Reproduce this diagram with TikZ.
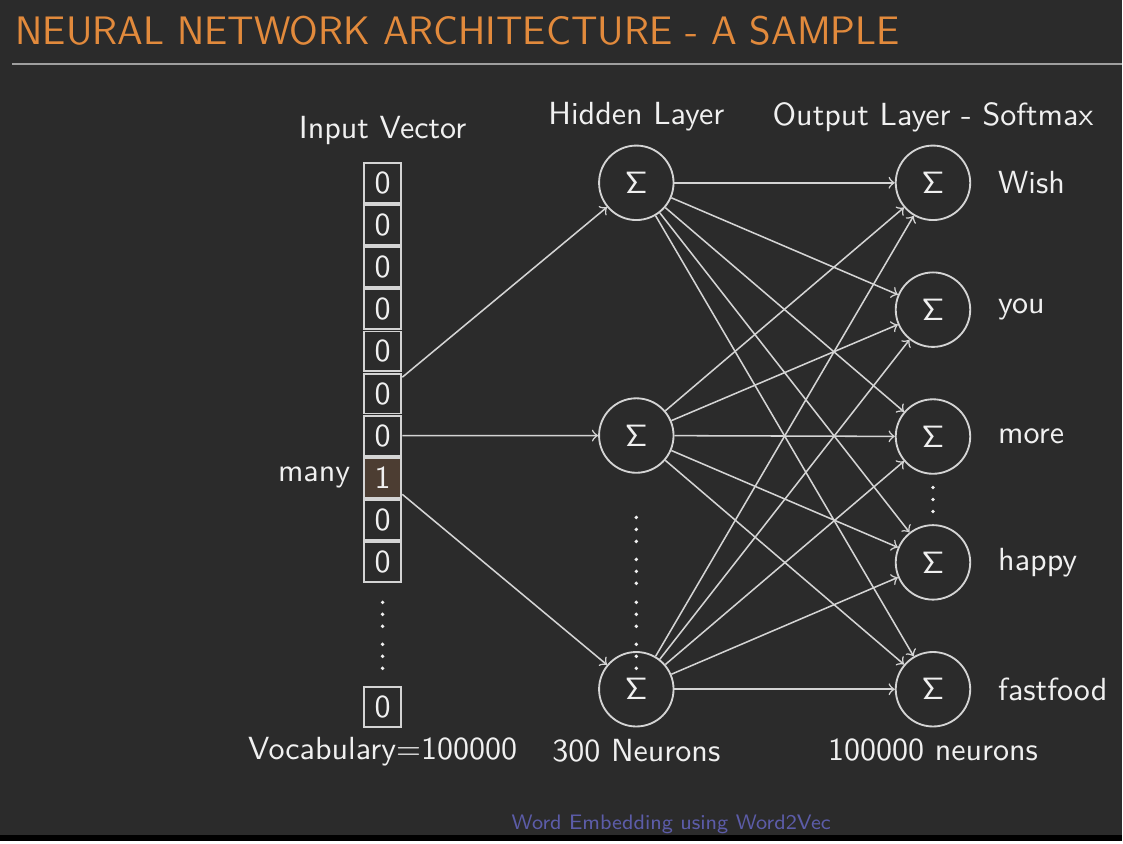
\documentclass[tikz,border=0pt]{standalone}
\usepackage{amsmath}
\usetikzlibrary{positioning, calc, arrows}
\definecolor{slidebg}{RGB}{43,43,43}
\definecolor{titleorange}{RGB}{226,138,60}
\definecolor{linegray}{RGB}{212,212,212}
\definecolor{textwhite}{RGB}{240,240,240}
\definecolor{cellhi}{RGB}{76,61,50}
\definecolor{footblue}{RGB}{92,92,168}

\begin{document}
\begin{tikzpicture}[x=0.114mm, y=-0.114mm, text=textwhite,
    font=\sffamily\fontsize{10.4}{12.5}\selectfont,
    cell/.style={draw=linegray, line width=0.6pt, minimum width=4.3mm, minimum height=4.55mm, inner sep=0pt},
    neuron/.style={draw=linegray, circle, line width=0.6pt, minimum size=8.5mm, inner sep=0pt},
    conn/.style={draw=linegray, ->, line width=0.5pt}]
\fill[slidebg] (0,0) rectangle (1123,842);
\fill[black] (0,836) rectangle (1123,842);
\node[anchor=base west, inner sep=0pt, text=titleorange, font=\sffamily\fontsize{12.9}{15}\selectfont] (title) at (15,45) {NEURAL NETWORK ARCHITECTURE - A SAMPLE};
\draw[gray!75, line width=0.8pt] (12,64) -- (1123,64);
% input vector
\foreach \v/\f [count=\i from 0] in {0/none, 0/none, 0/none, 0/none, 0/none, 0/none, 0/none, 1/cellhi, 0/none, 0/none}
{
    \node[cell, fill=\f] (in\i) at (383,{183+42.2*\i}) {\v};
}
\node[cell] (inN) at (383,708) {0};
\node (invec) at (383,131) {Input Vector};
\node[left=0.2mm of in7] (many) {many};
\node (vocab) at (383,752) {Vocabulary=100000};
% hidden layer
\foreach \i/\y in {1/183, 2/436, 3/690} {
    \node[neuron] (h\i) at (637,\y) {$\mathsf{\Sigma}$};
}
\node (hlab) at (637,117) {Hidden Layer};
\node (hcount) at (637,752) {300 Neurons};
% output layer
\foreach \i/\y/\w in {1/183/Wish, 2/310/you, 3/437/more, 4/563/happy, 5/690/fastfood} {
    \node[neuron] (o\i) at (934,\y) {$\mathsf{\Sigma}$};
    \node[right=1.85mm of o\i] (w\i) {\w};
}
\node (olab) at (934,117) {Output Layer - Softmax};
\node (ocount) at (934,751) {100000 neurons};
% vertical dots
\foreach \x/\y in {383/615, 383/657, 637/530, 637/572, 637/615, 637/657, 934/500} {
    \foreach \d in {-12,0,12} {
        \fill[textwhite] (\x,\y+\d) circle (0.22mm);
    }
}
% connections
\draw[conn] (in5) -- (h1);
\draw[conn] (in6) -- (h2);
\draw[conn] (in7) -- (h3);
\foreach \i in {1,2,3} {
    \foreach \j in {1,...,5} {
        \draw[conn] (h\i) -- (o\j);
    }
}
\node[text=footblue, font=\sffamily\fontsize{6.8}{8}\selectfont] (foot) at (672,825) {Word Embedding using Word2Vec};
\end{tikzpicture}
\end{document}
